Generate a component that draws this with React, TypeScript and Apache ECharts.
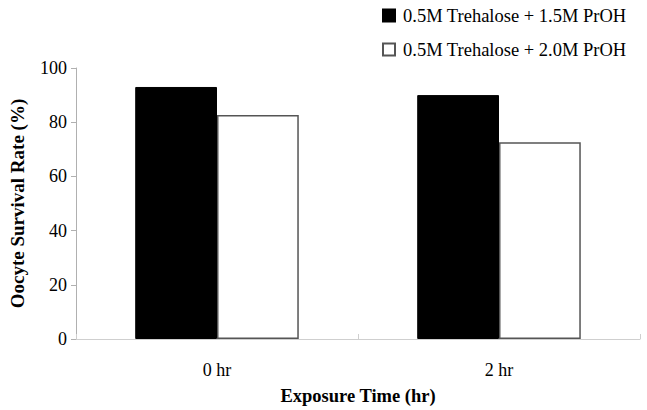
import React, { useEffect, useRef } from "react";
import * as echarts from "echarts";

const categories = ["0 hr", "2 hr"];
const series15 = [93, 90];
const series20 = [82.7, 72.6];
const seriesNames = ["0.5M Trehalose + 1.5M PrOH", "0.5M Trehalose + 2.0M PrOH"];
const yTicks = { min: 0, max: 100, interval: 20 };

const FONT = "'Liberation Serif', 'Times New Roman', serif";

export default function App() {
  const ref = useRef<HTMLDivElement>(null);
  useEffect(() => {
    if (!ref.current) return;
    const chart = echarts.init(ref.current, null, { renderer: "svg" });
    chart.setOption({
      animation: false,
      backgroundColor: "#ffffff",
      textStyle: { fontFamily: FONT },
      grid: { left: 71, right: 7, top: 68, bottom: 71, containLabel: false },
      legend: {
        orient: "vertical",
        left: 377,
        top: 1,
        itemWidth: 12,
        itemHeight: 12,
        itemGap: 15,
        icon: "rect",
        textStyle: { fontFamily: FONT, fontSize: 18.5, color: "#000", padding: [0, 0, 0, 3] },
        data: seriesNames,
      },
      xAxis: {
        type: "category",
        data: categories,
        name: "Exposure Time (hr)",
        nameLocation: "middle",
        nameGap: 47,
        nameTextStyle: { fontFamily: FONT, fontSize: 18.5, fontWeight: "bold", color: "#000" },
        axisLine: { show: true, lineStyle: { color: "#cfcfcf", width: 1 } },
        axisTick: { show: true, inside: true, length: 5, lineStyle: { color: "#cfcfcf" } },
        axisLabel: { fontFamily: FONT, fontSize: 18, color: "#000", margin: 22 },
        splitLine: { show: false },
      },
      yAxis: {
        type: "value",
        min: yTicks.min,
        max: yTicks.max,
        interval: yTicks.interval,
        name: "Oocyte Survival Rate (%)",
        nameLocation: "middle",
        nameGap: 49,
        nameTextStyle: { fontFamily: FONT, fontSize: 19, fontWeight: "bold", color: "#000" },
        axisLine: { show: true, lineStyle: { color: "#b0b0b0", width: 1 } },
        axisTick: { show: true, length: 5, lineStyle: { color: "#b0b0b0" } },
        axisLabel: { fontFamily: FONT, fontSize: 18, color: "#000", margin: 9 },
        splitLine: { show: false },
      },
      series: [
        {
          name: seriesNames[0],
          type: "bar",
          data: series15,
          barCategoryGap: "42%",
          barGap: "0%",
          itemStyle: { color: "#000000", borderColor: "#000000", borderWidth: 1 },
        },
        {
          name: seriesNames[1],
          type: "bar",
          data: series20,
          barCategoryGap: "42%",
          barGap: "0%",
          itemStyle: { color: "#ffffff", borderColor: "#555555", borderWidth: 1.5 },
        },
      ],
    });
    return () => chart.dispose();
  }, []);
  return <div ref={ref} style={{ width: 647, height: 410, position: "absolute", left: 0, top: 0 }} />;
}
